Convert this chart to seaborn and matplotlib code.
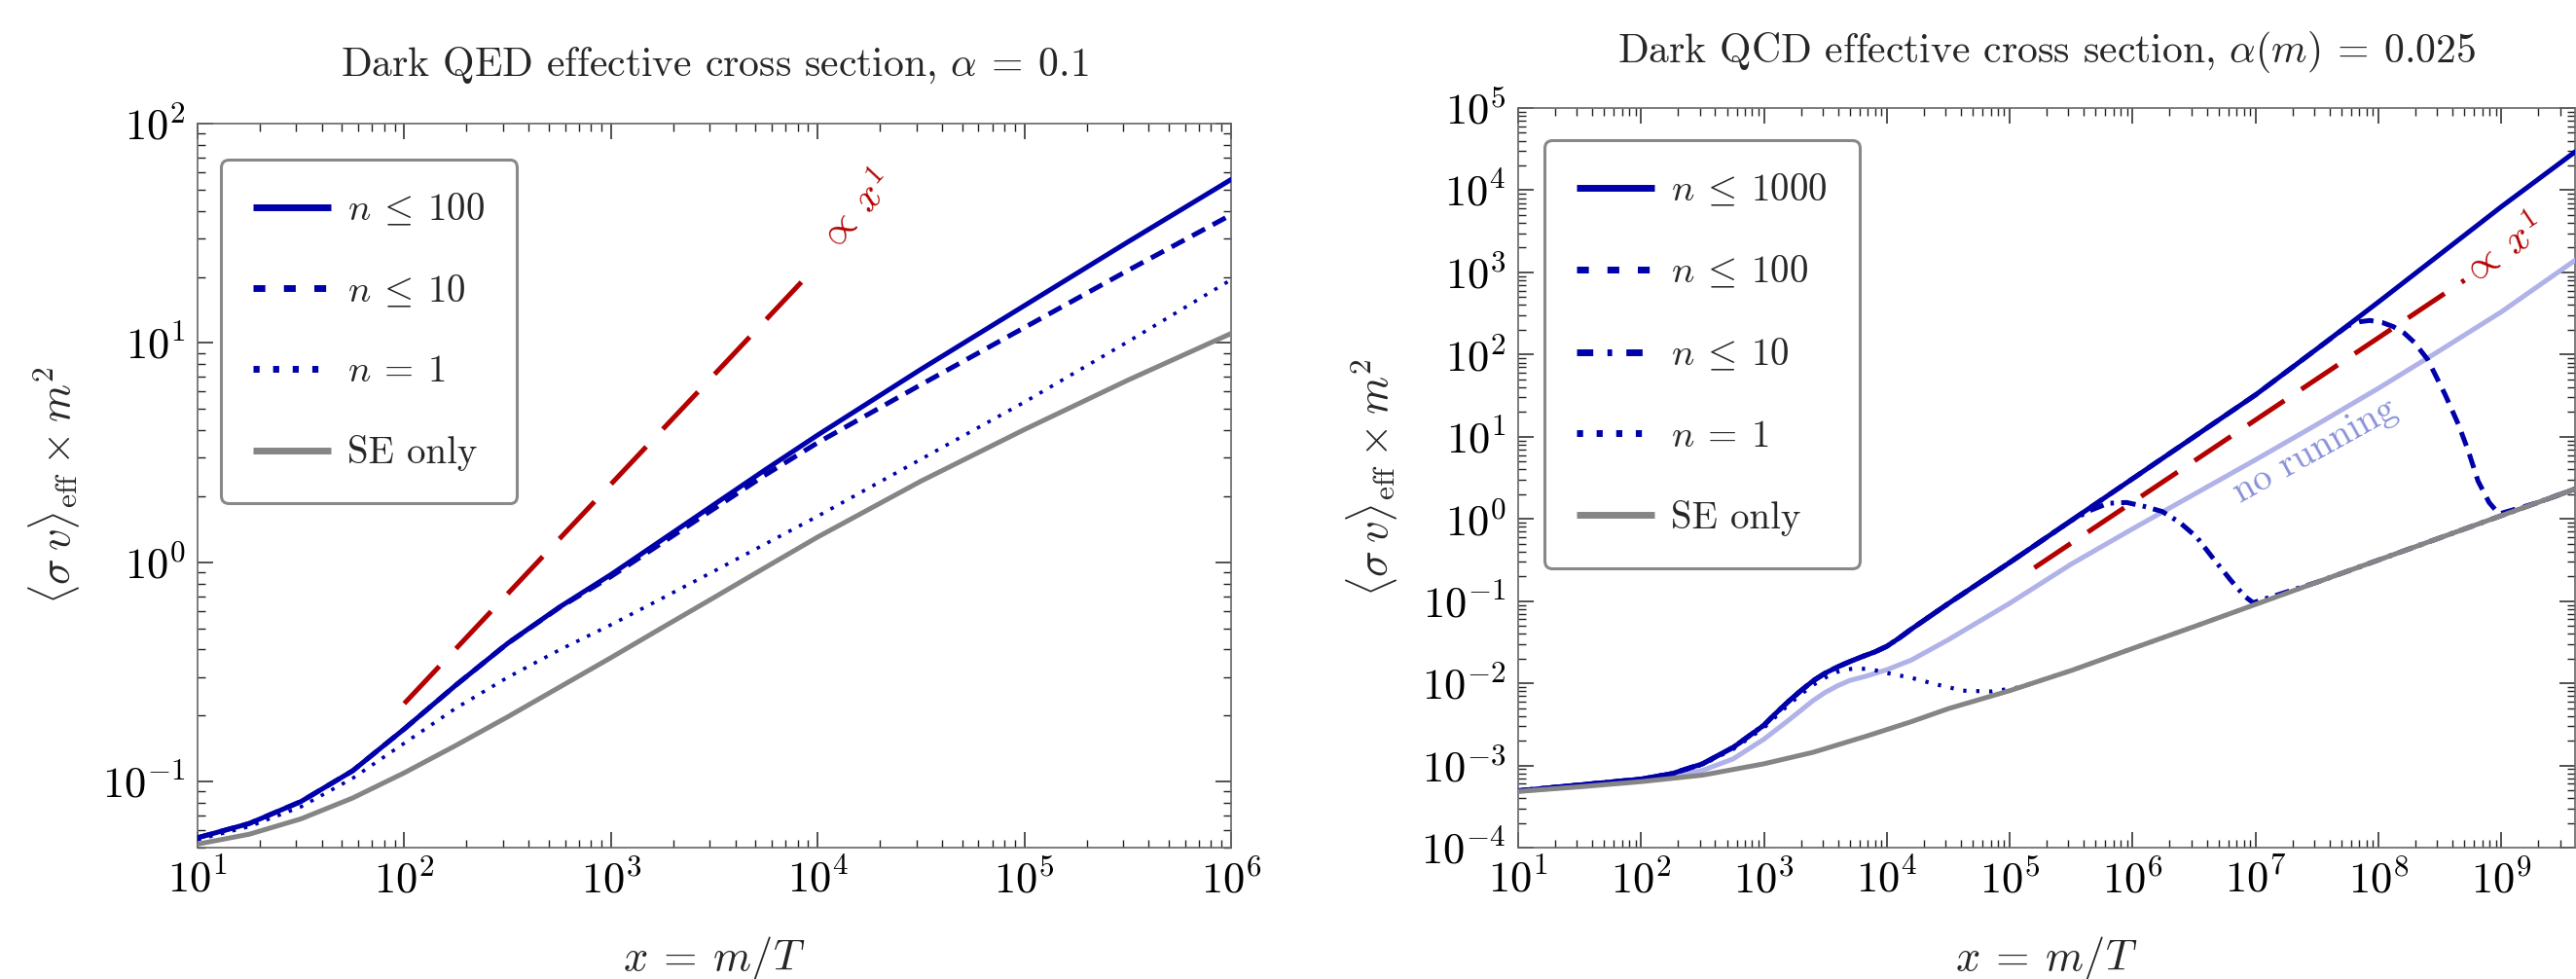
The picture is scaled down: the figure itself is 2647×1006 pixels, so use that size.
import numpy as np
import pandas as pd
import matplotlib
matplotlib.use("Agg")
import matplotlib.pyplot as plt
from matplotlib.lines import Line2D
from matplotlib.ticker import LogLocator, FuncFormatter, NullFormatter
import seaborn as sns

# ---------------- data (log10 values) ----------------
# Left panel: Dark QED, alpha = 0.1
qed_logx = [1.0, 1.25, 1.5, 1.75, 2.0, 2.25, 2.5, 2.75, 3.0, 3.25, 3.5, 3.75, 4.0, 4.5, 5.0, 5.5, 6.0]
qed_n100 = [-1.256, -1.191, -1.091, -0.951, -0.76, -0.56, -0.37, -0.205, -0.056, 0.104, 0.264, 0.424,
            0.58, 0.88, 1.17, 1.46, 1.745]
qed_n10 = [-1.256, -1.191, -1.091, -0.951, -0.76, -0.56, -0.37, -0.207, -0.065, 0.09, 0.245, 0.40,
           0.545, 0.81, 1.07, 1.33, 1.584]
qed_n1 = [-1.265, -1.205, -1.115, -0.985, -0.825, -0.665, -0.525, -0.40, -0.285, -0.163, -0.04, 0.085,
          0.21, 0.47, 0.73, 1.005, 1.288]
qed_se = [-1.285, -1.24, -1.17, -1.075, -0.96, -0.835, -0.705, -0.57, -0.435, -0.297, -0.16, -0.022,
          0.115, 0.37, 0.605, 0.83, 1.043]
qed_ref_logx = [2.0, 4.0]
qed_ref_logy = [-0.644, 1.356]

# Right panel: Dark QCD, alpha(m) = 0.025
qcd_main_logx = [1.0, 1.5, 2.0, 2.25, 2.5, 2.75, 3.0, 3.1, 3.2, 3.3, 3.4, 3.5, 3.6, 3.7, 3.8, 3.9, 4.0,
                 4.1, 4.2, 4.35, 4.5, 5.0, 5.5, 6.0, 6.5, 7.0, 7.5, 8.0, 8.5, 9.0, 9.602]
qcd_n1000 = [-3.308, -3.237, -3.166, -3.10, -2.98, -2.78, -2.51, -2.36, -2.22, -2.09, -1.97, -1.875,
             -1.80, -1.735, -1.675, -1.62, -1.55, -1.45, -1.34, -1.185, -1.03, -0.53, -0.02, 0.49, 1.0,
             1.51, 2.07, 2.64, 3.22, 3.80, 4.47]

qcd_n100_logx = [1.0, 1.5, 2.0, 2.25, 2.5, 2.75, 3.0, 3.1, 3.2, 3.3, 3.4, 3.5, 3.6, 3.7, 3.8, 3.9, 4.0,
                 4.1, 4.2, 4.35, 4.5, 5.0, 5.5, 6.0, 6.5, 7.0, 7.5, 7.75, 7.85, 7.93, 8.03, 8.12, 8.21,
                 8.29, 8.40, 8.54, 8.65, 8.73, 8.81, 8.90, 8.98, 9.3, 9.602]
qcd_n100 = [-3.308, -3.237, -3.166, -3.10, -2.98, -2.78, -2.51, -2.36, -2.22, -2.09, -1.97, -1.875,
            -1.80, -1.735, -1.675, -1.62, -1.55, -1.45, -1.34, -1.185, -1.03, -0.53, -0.02, 0.49, 1.0,
            1.51, 2.07, 2.35, 2.40, 2.415, 2.39, 2.34, 2.26, 2.15, 1.94, 1.52, 1.15, 0.83, 0.46, 0.20,
            0.06, 0.20, 0.366]

qcd_n10_logx = [1.0, 1.5, 2.0, 2.25, 2.5, 2.75, 3.0, 3.1, 3.2, 3.3, 3.4, 3.5, 3.6, 3.7, 3.8, 3.9, 4.0,
                4.1, 4.2, 4.35, 4.5, 5.0, 5.5, 5.65, 5.8, 5.95, 6.1, 6.24, 6.38, 6.52, 6.66, 6.8, 6.91,
                6.98, 7.5, 8.0, 8.5, 9.0, 9.602]
qcd_n10 = [-3.308, -3.237, -3.166, -3.10, -2.98, -2.78, -2.51, -2.36, -2.22, -2.09, -1.97, -1.875,
           -1.80, -1.735, -1.675, -1.62, -1.55, -1.45, -1.34, -1.185, -1.03, -0.53, -0.02, 0.10, 0.19,
           0.20, 0.15, 0.09, -0.04, -0.22, -0.49, -0.75, -0.94, -1.02, -0.77, -0.50, -0.23, 0.04, 0.366]

qcd_n1_logx = [1.0, 1.5, 2.0, 2.25, 2.5, 2.75, 3.0, 3.1, 3.2, 3.3, 3.4, 3.5, 3.6, 3.68, 3.75, 3.83, 3.9,
               4.0, 4.2, 4.4, 4.62, 4.85, 5.08, 5.5, 6.0, 6.5, 7.0, 7.5, 8.0, 8.5, 9.0, 9.602]
qcd_n1 = [-3.31, -3.24, -3.17, -3.105, -2.99, -2.80, -2.54, -2.40, -2.26, -2.135, -2.02, -1.93, -1.86,
          -1.83, -1.82, -1.825, -1.84, -1.875, -1.934, -2.013, -2.09, -2.10, -2.05, -1.845, -1.576,
          -1.31, -1.04, -0.77, -0.50, -0.23, 0.04, 0.366]

qcd_se_logx = [1.0, 1.5, 2.0, 2.5, 3.0, 3.4, 3.83, 4.2, 4.5, 5.0, 5.5, 6.0, 6.5, 7.0, 7.5, 8.0, 8.5, 9.0, 9.602]
qcd_se = [-3.316, -3.26, -3.197, -3.118, -2.98, -2.84, -2.645, -2.467, -2.309, -2.09, -1.845, -1.576,
          -1.31, -1.04, -0.77, -0.50, -0.23, 0.04, 0.366]

qcd_norun_logx = [1.0, 1.5, 2.0, 2.25, 2.5, 2.75, 3.0, 3.1, 3.2, 3.3, 3.4, 3.5, 3.6, 3.7, 3.83, 4.0,
                  4.2, 4.5, 5.0, 5.5, 6.0, 6.5, 7.0, 7.5, 8.0, 8.5, 9.0, 9.602]
qcd_norun = [-3.316, -3.25, -3.18, -3.13, -3.06, -2.92, -2.68, -2.565, -2.45, -2.33, -2.21, -2.11,
             -2.03, -1.965, -1.914, -1.835, -1.717, -1.47, -1.026, -0.55, -0.12, 0.30, 0.72, 1.15,
             1.59, 2.05, 2.52, 3.15]

qcd_ref_logx = [5.2, 8.7]
qcd_ref_logy = [-0.595, 2.905]

qed_labels = [r"$n \:\leq\: 100$", r"$n \:\leq\: 10$", r"$n \:=\: 1$", "SE only"]
qcd_labels = [r"$n \:\leq\: 1000$", r"$n \:\leq\: 100$", r"$n \:\leq\: 10$", r"$n \:=\: 1$", "SE only"]

# ---------------- style ----------------
sns.set_theme(style="ticks")
plt.rcParams["font.family"] = ["cmr10", "DejaVu Serif"]
plt.rcParams["mathtext.fontset"] = "cm"
plt.rcParams["axes.unicode_minus"] = False

BLUE = "#0000AA"
RED = "#B40000"
GRAY = "#858585"
LIGHT = "#B0B2E8"
LIGHT_TXT = "#8892DA"
LW = 3.6

W, H = 2647, 1006
fig = plt.figure(figsize=(W / 100, H / 100), dpi=100)
axL = fig.add_axes([203 / W, (H - 871) / H, (1265 - 203) / W, (871 - 127) / H])
axR = fig.add_axes([1560 / W, (H - 871) / H, (2645.5 - 1560) / W, (871 - 111) / H])


def line(ax, lx, ly, **kw):
    df = pd.DataFrame({"x": np.power(10.0, lx), "y": np.power(10.0, ly)})
    sns.lineplot(data=df, x="x", y="y", ax=ax, sort=False, estimator=None, **kw)


for ax in (axL, axR):
    ax.set_xscale("log")
    ax.set_yscale("log")

# left panel
line(axL, qed_logx, qed_n100, color=BLUE, lw=LW, zorder=4)
line(axL, qed_logx, qed_n10, color=BLUE, lw=LW, linestyle=(0, (3.0, 1.8)), zorder=4)
line(axL, qed_logx, qed_n1, color=BLUE, lw=2.6, linestyle=(0, (1.0, 2.4)), zorder=4)
line(axL, qed_logx, qed_se, color=GRAY, lw=LW, zorder=5)
line(axL, qed_ref_logx, qed_ref_logy, color=RED, lw=LW, linestyle=(0, (10.5, 5.0)), zorder=6)

# right panel
line(axR, qcd_norun_logx, qcd_norun, color=LIGHT, lw=LW, zorder=3)
line(axR, qcd_main_logx, qcd_n1000, color=BLUE, lw=LW, zorder=4)
line(axR, qcd_n100_logx, qcd_n100, color=BLUE, lw=LW, linestyle=(0, (3.0, 1.8)), zorder=4)
line(axR, qcd_n10_logx, qcd_n10, color=BLUE, lw=LW, linestyle=(0, (3.0, 1.5, 0.7, 1.5)), zorder=4)
line(axR, qcd_n1_logx, qcd_n1, color=BLUE, lw=3.0, linestyle=(0, (0.8, 2.4)), zorder=4)
line(axR, qcd_se_logx, qcd_se, color=GRAY, lw=LW, zorder=5)
line(axR, qcd_ref_logx, qcd_ref_logy, color=RED, lw=LW, linestyle=(0, (9.0, 4.2)), zorder=6)

axL.set_xlim(10, 1e6)
axL.set_ylim(0.05, 100)
axR.set_xlim(10, 10 ** 9.595)
axR.set_ylim(1e-4, 1e5)

fmt = FuncFormatter(lambda v, p: r"$10^{%d}$" % int(round(np.log10(v))))
for ax in (axL, axR):
    for axis in (ax.xaxis, ax.yaxis):
        axis.set_major_locator(LogLocator(base=10, numticks=30))
        axis.set_minor_locator(LogLocator(base=10, subs=np.arange(2, 10), numticks=200))
        axis.set_major_formatter(fmt)
        axis.set_minor_formatter(NullFormatter())
    ax.tick_params(which="both", direction="in", top=True, right=True, colors="#222222",
                   labelcolor="black", labelsize=32)
    ax.tick_params(which="major", length=11.5, width=1.1, pad=9)
    ax.tick_params(which="minor", length=5.8, width=1.0)
    for s in ax.spines.values():
        s.set_color("#666666")
        s.set_linewidth(1.2)
    ax.set_xlabel(r"$x \:=\: m/T$", fontsize=32)
    ax.set_ylabel(r"$\langle \sigma\: v\rangle_{\rm eff} \:\times\: m^2$", fontsize=32)
    ax.set_facecolor("white")

axL.xaxis.set_label_coords(0.5, (871 - 960) / 744)
axR.xaxis.set_label_coords(0.5, (871 - 960) / 760)
axL.yaxis.set_label_coords(-0.112, 0.5)
axR.yaxis.set_label_coords(-0.112, 0.5)

# titles
fig.text(734 / W, 1 - 78 / H, r"Dark QED effective cross section, $\alpha \:=\: 0.1$",
         ha="center", va="baseline", fontsize=30)
fig.text(2103 / W, 1 - 64 / H, r"Dark QCD effective cross section, $\alpha(m) \:=\: 0.025$",
         ha="center", va="baseline", fontsize=30)

# annotations
axL.text(10 ** 4.187, 10 ** 1.596, r"$\propto\: x^1$", color=RED, fontsize=30,
         rotation=47, ha="center", va="center", zorder=7)
axR.text(10 ** 9.008, 10 ** 3.26, r"$\propto\: x^1$", color=RED, fontsize=30,
         rotation=34, ha="center", va="center", zorder=7)
axR.text(10 ** 7.487, 10 ** 0.832, "no running", color=LIGHT_TXT, fontsize=28,
         rotation=29, ha="center", va="center", zorder=7)


# legends
def handles(styles):
    return [Line2D([], [], color=c, lw=lw, linestyle=ls, solid_capstyle="butt", dash_capstyle="butt")
            for c, lw, ls in styles]


hL = handles([(BLUE, 5, "-"), (BLUE, 5, (0, (1.75, 2.75))), (BLUE, 5, (0, (0.9, 2.0))), (GRAY, 5, "-")])
hR = handles([(BLUE, 5, "-"), (BLUE, 5, (0, (1.75, 2.75))), (BLUE, 5, (0, (2.4, 2.1, 0.7, 2.1))),
              (BLUE, 5, (0, (0.9, 2.0))), (GRAY, 5, "-")])

for ax, hs, labs, anchor, ls in ((axL, hL, qed_labels, ((227 - 203) / 1062, (871 - 164) / 744), 1.2),
                                 (axR, hR, qcd_labels, ((1587 - 1560) / 1085.5, (871 - 144) / 760), 1.22)):
    leg = ax.legend(hs, labs, loc="upper left", bbox_to_anchor=anchor, borderaxespad=0,
                    fontsize=28, frameon=True, fancybox=True, handlelength=2.05,
                    handletextpad=0.45, labelspacing=ls, borderpad=0.85)
    fr = leg.get_frame()
    fr.set_edgecolor("#888888")
    fr.set_linewidth(2.2)
    fr.set_facecolor("white")
    fr.set_alpha(1)
    leg.set_zorder(10)

fig.savefig("out.png", dpi=100, facecolor="white")
